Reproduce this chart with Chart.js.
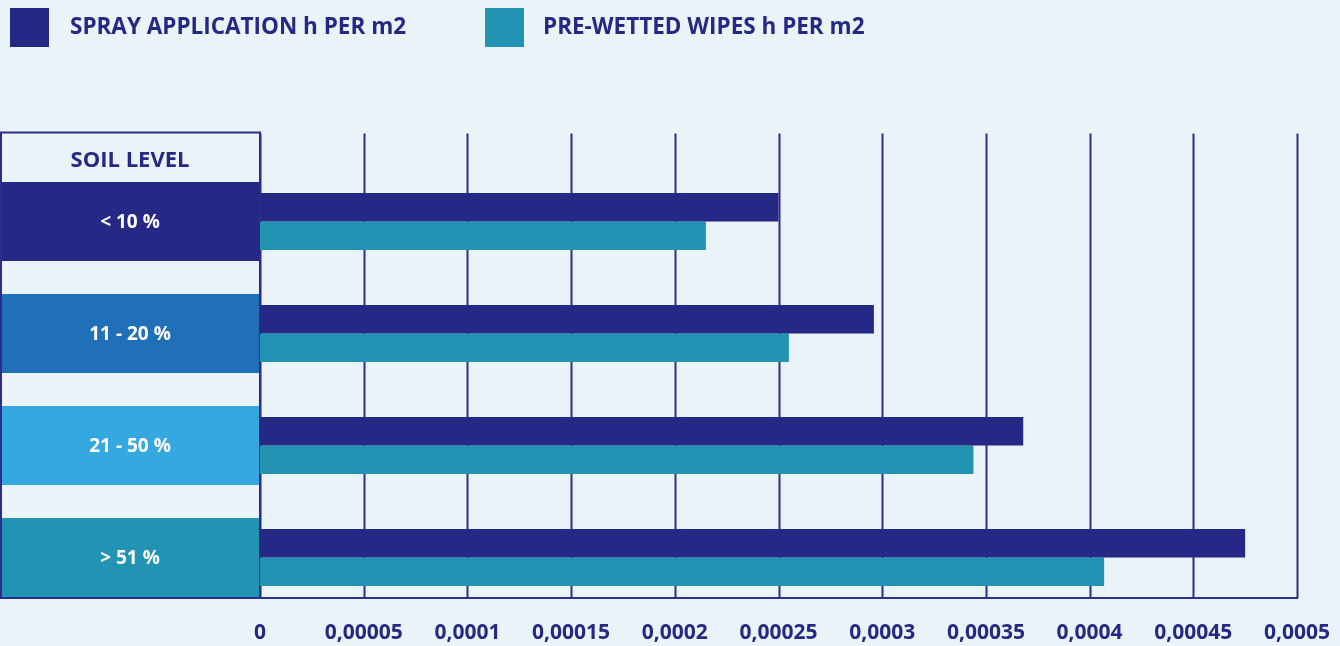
<!DOCTYPE html>
<html>
<head>
<meta charset="utf-8">
<title>Soil level</title>
<script src="https://cdn.jsdelivr.net/npm/chart.js@4/dist/chart.umd.min.js"></script>
<style>
  html, body { margin: 0; padding: 0; background: #eaf3f7; }
  #wrap { width: 1340px; height: 646px; }
</style>
</head>
<body>
<div id="wrap"><canvas id="chart_soil" width="1340" height="646"></canvas></div>
<script>
// data
var soilLevels = ['< 10 %', '11 - 20 %', '21 - 50 %', '> 51 %'];
var levelColors = ['#262886', '#1f70b7', '#36a8e0', '#2393b4'];
var sprayHours = [0.00025, 0.000296, 0.000368, 0.000475];
var wipesHours = [0.000215, 0.000255, 0.000344, 0.000407];
var seriesNames = ['SPRAY APPLICATION h PER m2', 'PRE-WETTED WIPES h PER m2'];
var seriesColors = ['#262886', '#2393b4'];
var tickValues = [0, 0.00005, 0.0001, 0.00015, 0.0002, 0.00025, 0.0003, 0.00035, 0.0004, 0.00045, 0.0005];
var tickLabels = ['0', '0,00005', '0,0001', '0,00015', '0,0002', '0,00025', '0,0003', '0,00035', '0,0004', '0,00045', '0,0005'];
var headerText = 'SOIL LEVEL';

var navy = '#262886';
var lineNavy = '#2b2d8a';

// frame, grid and the coloured level boxes on the left
var soilFrame = {
  id: 'soilFrame',
  beforeDatasetsDraw: function(chart) {
    var ctx = chart.ctx, area = chart.chartArea;
    var xs = chart.scales.x, ys = chart.scales.y;
    var top = area.top - 33, bottom = area.bottom - 15.5;
    ctx.save();

    // level boxes
    ctx.textAlign = 'center';
    ctx.textBaseline = 'middle';
    for (var i = 0; i < soilLevels.length; i++) {
      var cy = ys.getPixelForValue(i);
      ctx.fillStyle = levelColors[i];
      ctx.fillRect(0, cy - 39.5, area.left, 79);
      ctx.fillStyle = '#ffffff';
      ctx.font = 'bold 19px "Open Sans"';
      ctx.fillText(soilLevels[i], area.left / 2, cy + 1);
    }

    // header
    ctx.fillStyle = navy;
    ctx.font = 'bold 22px "Open Sans"';
    ctx.fillText(headerText, area.left / 2, top + 28);

    // lines
    ctx.strokeStyle = lineNavy;
    ctx.lineWidth = 2;
    ctx.strokeRect(1, top, area.left - 1, bottom - top);
    tickValues.forEach(function(v) {
      var px = Math.round(xs.getPixelForValue(v)) + 0.5;
      ctx.beginPath();
      ctx.moveTo(px, top + 1);
      ctx.lineTo(px, bottom);
      ctx.stroke();
    });
    ctx.beginPath();
    ctx.moveTo(0, bottom);
    ctx.lineTo(xs.getPixelForValue(tickValues[tickValues.length - 1]) + 1, bottom);
    ctx.stroke();
    ctx.restore();
  },
  afterDraw: function(chart) {
    // legend along the top
    var ctx = chart.ctx;
    var boxX = [10, 485], textX = [70, 543];
    ctx.save();
    ctx.textAlign = 'left';
    ctx.textBaseline = 'middle';
    ctx.font = 'bold 22.5px "Open Sans"';
    chart.data.datasets.forEach(function(ds, i) {
      ctx.fillStyle = ds.backgroundColor;
      ctx.fillRect(boxX[i], 8, 39, 39);
      ctx.fillStyle = navy;
      ctx.fillText(ds.label, textX[i], 28);
    });
    ctx.restore();
  }
};

var ctxB = document.getElementById('chart_soil').getContext('2d');
var soilChart = new Chart(ctxB, {
  type: 'bar',
  data: {
    labels: soilLevels,
    datasets: [{
      label: seriesNames[0],
      data: sprayHours,
      backgroundColor: seriesColors[0]
    }, {
      label: seriesNames[1],
      data: wipesHours,
      backgroundColor: seriesColors[1]
    }]
  },
  options: {
    indexAxis: 'y',
    responsive: false,
    animation: false,
    layout: { padding: { top: 165.5, left: 260, right: 43, bottom: 0 } },
    datasets: { bar: { categoryPercentage: 0.51, barPercentage: 1 } },
    plugins: { legend: { display: false }, tooltip: { enabled: false } },
    scales: {
      x: {
        min: 0,
        max: 0.0005,
        grid: { display: false, drawTicks: false },
        border: { display: false },
        afterBuildTicks: function(scale) {
          scale.ticks = tickValues.map(function(v) { return { value: v }; });
        },
        afterFit: function(scale) { scale.height = 32.5; },
        ticks: {
          padding: 7,
          color: navy,
          font: { family: 'Open Sans', weight: 'bold', size: 21 },
          maxRotation: 0,
          autoSkip: false,
          callback: function(v, i) { return tickLabels[i]; }
        }
      },
      y: {
        display: false
      }
    }
  },
  plugins: [soilFrame]
});
</script>
</body>
</html>
